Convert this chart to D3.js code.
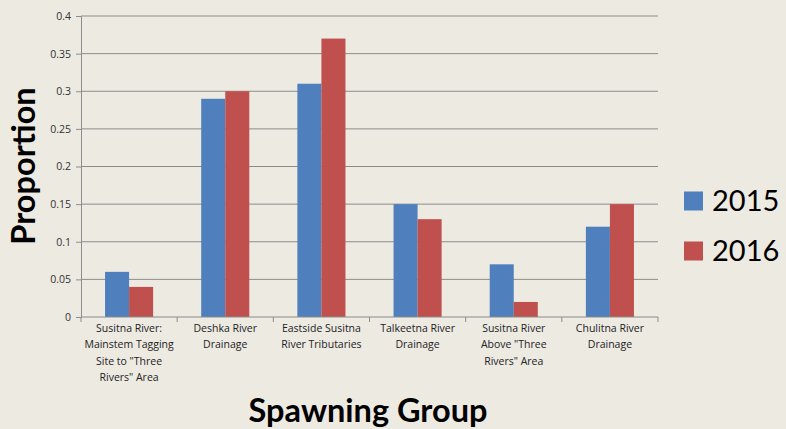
<!DOCTYPE html>
<html><head><meta charset="utf-8">
<script src="https://cdn.jsdelivr.net/npm/d3@7"></script>
<style>body{margin:0;background:#EDEAE2;}svg{display:block;}</style>
</head><body>
<svg id="c" width="786" height="429"></svg>
<script>
const categories = [
  ["Susitna River:", "Mainstem Tagging", "Site to \"Three", "Rivers\" Area"],
  ["Deshka River", "Drainage"],
  ["Eastside Susitna", "River Tributaries"],
  ["Talkeetna River", "Drainage"],
  ["Susitna River", "Above  \"Three", "Rivers\" Area"],
  ["Chulitna River", "Drainage"]
];
const series = ["2015", "2016"];
const values2015 = [0.06, 0.29, 0.31, 0.15, 0.07, 0.12];
const values2016 = [0.04, 0.30, 0.37, 0.13, 0.02, 0.15];
const yTicks = [0, 0.05, 0.1, 0.15, 0.2, 0.25, 0.3, 0.35, 0.4];
const colors = ["#4F7FBD", "#C0504D"];

const svg = d3.select("#c");
const m = {l:81, r:658, t:16, b:317};
const x = d3.scaleBand().domain(d3.range(categories.length)).range([m.l, m.r]);
const xs = d3.scaleBand().domain(series).range([0, x.bandwidth()]).paddingInner(0).paddingOuter(1);
const y = d3.scaleLinear().domain([0, 0.4]).range([m.b, m.t]);

// gridlines
svg.append("g").selectAll("line").data(yTicks.filter(d=>d>0)).join("line")
  .attr("x1", m.l).attr("x2", m.r).attr("y1", d=>y(d)).attr("y2", d=>y(d))
  .attr("stroke", "#8C8C8C").attr("stroke-width", 1);

// y axis
const ya = svg.append("g").attr("transform", `translate(${m.l},0)`)
  .call(d3.axisLeft(y).tickValues(yTicks).tickFormat(d=>d===0?"0":String(d)).tickSize(5).tickPadding(5));
ya.select(".domain").attr("stroke", "#8C8C8C");
ya.selectAll(".tick line").attr("stroke", "#8C8C8C");
ya.selectAll("text").attr("font-family", "Open Sans, sans-serif").attr("font-size", 10.5).attr("fill", "#333");

// bars
const data = categories.map((c,i)=>[values2015[i], values2016[i]]);
const g = svg.append("g");
data.forEach((vals, i) => {
  vals.forEach((v, j) => {
    g.append("rect")
      .attr("x", x(i) + xs(series[j]))
      .attr("width", xs.bandwidth())
      .attr("y", y(v))
      .attr("height", y(0) - y(v))
      .attr("fill", colors[j]);
  });
});

// x axis
const xa = svg.append("g").attr("transform", `translate(0,${m.b})`);
xa.append("line").attr("x1", m.l).attr("x2", m.r).attr("stroke", "#8C8C8C");
const bounds = d3.range(categories.length + 1).map(i => m.l + i * x.step());
xa.selectAll(".tk").data(bounds).join("line").attr("class","tk")
  .attr("x1", d=>d).attr("x2", d=>d).attr("y1", 0).attr("y2", 5).attr("stroke", "#8C8C8C");

categories.forEach((lines, i) => {
  const t = svg.append("text")
    .attr("x", x(i) + x.bandwidth()/2)
    .attr("y", 332)
    .attr("text-anchor", "middle")
    .attr("font-family", "Open Sans, sans-serif")
    .attr("font-size", 10.5)
    .attr("fill", "#222");
  lines.forEach((l, k) => t.append("tspan").attr("x", x(i) + x.bandwidth()/2).attr("dy", k===0?0:16.3).text(l));
});

// axis titles
svg.append("text").attr("transform", "translate(35,166) rotate(-90)")
  .attr("text-anchor", "middle").attr("font-family", "Lato, sans-serif").attr("font-weight", "bold")
  .attr("font-size", 32.5).attr("fill", "#000").text("Proportion");
svg.append("text").attr("x", 368).attr("y", 422)
  .attr("text-anchor", "middle").attr("font-family", "Lato, sans-serif").attr("font-weight", "bold")
  .attr("font-size", 32.5).attr("fill", "#000").text("Spawning Group");

// legend
series.forEach((s, j) => {
  const ly = 201 + j * 50;
  svg.append("rect").attr("x", 684).attr("y", ly - 9.5).attr("width", 19).attr("height", 19).attr("fill", colors[j]);
  svg.append("text").attr("x", 712).attr("y", ly + 10).attr("font-family", "Lato, sans-serif")
    .attr("font-size", 29).attr("fill", "#000").text(s);
});
</script>
</body></html>
